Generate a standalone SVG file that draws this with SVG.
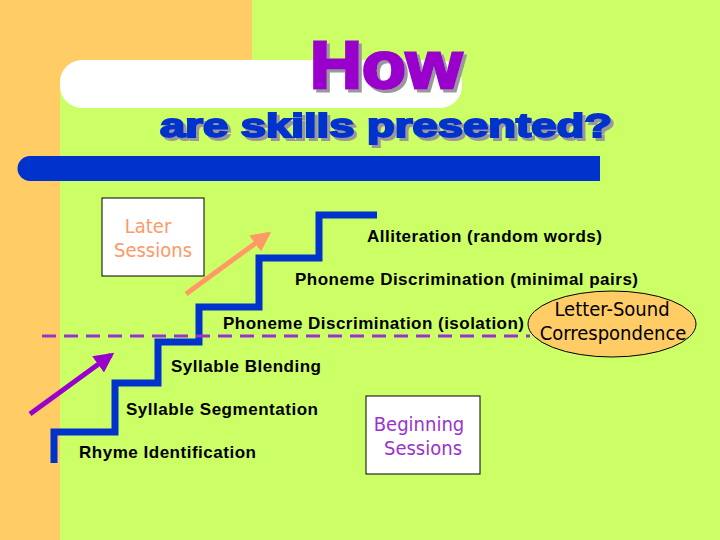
<svg xmlns="http://www.w3.org/2000/svg" width="720" height="540" viewBox="0 0 720 540">
<defs>
<style>
.lbl{font-family:"Liberation Sans",Arial,sans-serif;font-weight:bold;font-size:17px;fill:#000}
.hand{font-family:"DejaVu Sans Condensed","DejaVu Sans",sans-serif;font-size:20px}
.box{fill:#fff;stroke:#000;stroke-width:1}
</style>
<filter id="sh" x="-10%" y="-20%" width="130%" height="150%"><feOffset in="SourceAlpha" dx="3" dy="3" result="o"/><feFlood flood-color="#999"/><feComposite in2="o" operator="in" result="s"/><feMerge><feMergeNode in="s"/><feMergeNode in="SourceGraphic"/></feMerge></filter>
<marker id="ao" viewBox="0 0 10 10" refX="8" refY="5" markerWidth="4" markerHeight="4" orient="auto"><path d="M0,0L10,5L0,10z" fill="#FF9966"/></marker>
<marker id="ap" viewBox="0 0 10 10" refX="8" refY="5" markerWidth="4" markerHeight="4" orient="auto"><path d="M0,0L10,5L0,10z" fill="#9900CC"/></marker>
</defs>
<rect width="720" height="540" fill="#CCFF66"/>
<rect width="60" height="540" fill="#FFCC66"/>
<rect width="252" height="84" fill="#FFCC66"/>
<rect x="60" y="60" width="402" height="48" rx="22" fill="#fff"/>
<path d="M30,156H600V181H30A12.5,12.5 0 0 1 30,156Z" fill="#0033CC"/>
<g font-family="'Liberation Sans',Arial,sans-serif" font-weight="bold" filter="url(#sh)">
<text x="310" y="88" font-size="66" fill="#9900CC" stroke="#9900CC" stroke-width="3" textLength="152" lengthAdjust="spacingAndGlyphs">How</text>
<text x="160" y="137" font-size="33" fill="#0033CC" stroke="#0033CC" stroke-width="2" textLength="452" lengthAdjust="spacingAndGlyphs">are skills presented?</text>
</g>
<g id="connectors">
<path d="M54,463V432H115V383H158V342H199V307H259V258H319V215H377" fill="none" stroke="#0033CC" stroke-width="7"/>
<line x1="42" y1="336" x2="530" y2="336" stroke="#9933CC" stroke-width="3" stroke-dasharray="14,8"/>
<line x1="186" y1="294" x2="268" y2="234" stroke="#FF9966" stroke-width="5" marker-end="url(#ao)"/>
<line x1="30" y1="414" x2="111" y2="355" stroke="#9900CC" stroke-width="5" marker-end="url(#ap)"/>
</g>
<g id="later"><rect class="box" x="102" y="198" width="102" height="78"/>
<text class="hand" fill="#FF9966" text-anchor="middle"><tspan x="148" y="233">Later</tspan><tspan x="153" y="257">Sessions</tspan></text></g>
<g id="beginning"><rect class="box" x="366" y="396" width="114" height="78"/>
<text class="hand" fill="#9933CC" text-anchor="middle"><tspan x="419" y="431">Beginning</tspan><tspan x="423" y="455">Sessions</tspan></text></g>
<g id="lsc"><ellipse cx="612" cy="324" rx="84" ry="33" fill="#FFCC66" stroke="#000" stroke-width="1"/>
<text class="hand" fill="#000" text-anchor="middle"><tspan x="612" y="316">Letter-Sound</tspan><tspan x="613" y="340">Correspondence</tspan></text></g>
<g id="labels">
<text class="lbl" x="367" y="242" textLength="235">Alliteration (random words)</text>
<text class="lbl" x="295" y="285" textLength="343">Phoneme Discrimination (minimal pairs)</text>
<text class="lbl" x="223" y="329" textLength="301">Phoneme Discrimination (isolation)</text>
<text class="lbl" x="171" y="372" textLength="150">Syllable Blending</text>
<text class="lbl" x="126" y="415" textLength="192">Syllable Segmentation</text>
<text class="lbl" x="79" y="458" textLength="177">Rhyme Identification</text>
</g>
</svg>
